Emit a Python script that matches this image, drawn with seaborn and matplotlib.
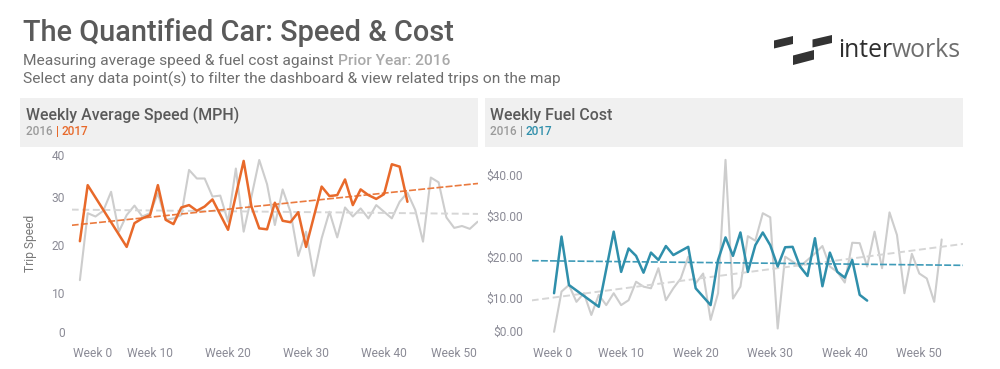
import numpy as np
import matplotlib
matplotlib.use('Agg')
import matplotlib.pyplot as plt
from matplotlib.patches import Rectangle, Polygon
import seaborn as sns

# ---------------- data ----------------
speed_weeks_2016 = list(range(1, 53))
speed_2016 = [12.6, 26.7, 26.0, 27.2, 31.2, 22.8, 26.3, 28.3, 26.0, 26.7,
              30.9, 25.3, 25.6, 26.3, 35.8, 34.0, 34.0, 30.2, 30.4, 24.9,
              36.1, 22.8, 30.2, 37.9, 32.8, 24.2, 31.7, 27.0, 17.7, 22.8,
              13.5, 21.4, 27.0, 21.6, 27.9, 26.0, 27.7, 25.6, 28.4, 27.0,
              25.6, 29.1, 31.0, 27.4, 20.7, 34.2, 33.2, 25.8, 23.6, 24.0,
              23.4, 24.9]
speed_weeks_2017 = [1, 2, 7, 8, 9, 10, 11, 12, 13, 14, 15, 16, 17, 18, 20,
                    22, 23, 24, 25, 26, 27, 28, 29, 30, 32, 33, 34, 35, 36,
                    37, 38, 39, 40, 41, 42, 43]
speed_2017 = [20.8, 32.6, 19.6, 24.6, 25.6, 26.3, 32.6, 25.3, 24.4, 27.9,
              28.4, 27.2, 28.1, 29.6, 23.2, 37.7, 28.1, 23.5, 23.3, 28.9,
              25.1, 24.8, 26.9, 19.6, 32.3, 30.3, 30.5, 33.8, 28.4, 31.7,
              30.5, 29.7, 30.7, 37.0, 36.5, 29.1]

cost_weeks_2016 = list(range(1, 54))
cost_2016 = [1.7, 11.5, 13.1, 9.0, 11.1, 5.8, 10.7, 8.2, 11.1, 8.2,
             9.4, 13.9, 12.7, 12.3, 17.2, 9.4, 12.3, 14.7, 20.0, 13.5,
             15.9, 4.6, 11.1, 43.6, 9.8, 12.7, 25.0, 23.9, 30.6, 29.6,
             2.5, 20.0, 18.8, 17.6, 19.2, 20.8, 22.6, 17.6, 16.3, 13.7,
             23.4, 23.3, 17.6, 26.1, 17.2, 30.8, 25.3, 11.1, 20.7, 15.9,
             14.7, 9.0, 24.2]
cost_weeks_2017 = [1, 2, 3, 7, 9, 10, 11, 12, 13, 14, 15, 16, 17, 19, 20, 22,
                   23, 24, 25, 26, 27, 28, 29, 30, 31, 32, 33, 34, 35, 36, 37,
                   38, 39, 40, 41, 42, 43]
cost_2017 = [11.1, 24.9, 13.1, 7.8, 26.1, 16.3, 22.0, 20.2, 16.1, 21.0,
             19.2, 22.6, 20.4, 22.4, 12.3, 8.2, 19.2, 24.7, 20.2, 25.9,
             16.3, 22.8, 25.9, 22.8, 17.6, 22.3, 22.4, 17.6, 15.3, 24.5,
             12.8, 21.0, 16.3, 14.9, 19.2, 10.7, 9.3]

week_ticks = [0, 10, 20, 30, 40, 50]
week_labels = ['Week 0', 'Week 10', 'Week 20', 'Week 30', 'Week 40', 'Week 50']
speed_ticks = [0, 10, 20, 30, 40]
speed_tick_labels = ['0', '10', '20', '30', '40']
cost_ticks = [0, 10, 20, 30, 40]
cost_tick_labels = ['$0.00', '$10.00', '$20.00', '$30.00', '$40.00']

# ---------------- style ----------------
W, H = 1000, 369
sns.set_style('white')
FONT = ['Roboto', 'DejaVu Sans']
plt.rcParams['font.family'] = FONT
plt.rcParams['lines.scale_dashes'] = False

ORANGE = '#e8692a'
BLUE = '#2f8fab'
GRAY_LINE = '#cdcdcd'
GRAY_TREND = '#d6d6d6'
TXT_DARK = '#5a5a5a'
TXT_MID = '#6e6e6e'
TICK_COL = '#8b8b96'

fig = plt.figure(figsize=(W / 100, H / 100), dpi=100)
fig.patch.set_facecolor('white')
R = fig.canvas.get_renderer()


def fxy(x, y):
    return x / W, 1 - y / H


def advance(s, size, **kw):
    t = fig.text(0, 0, s + '.', fontsize=size, **kw)
    w1 = t.get_window_extent(R).width
    t.set_text('.')
    w2 = t.get_window_extent(R).width
    t.remove()
    return w1 - w2


def runs_width(parts, size, family=None):
    kw = {} if family is None else {'family': family}
    return sum(advance(s, size, fontweight=wt, **kw) for s, c, wt in parts)


def fit(parts, target, family=None):
    return 20 * target / runs_width(parts, 20, family)


def draw_runs(x, y, parts, size, family=None):
    kw = {} if family is None else {'family': family}
    cx = x
    for s, c, wt in parts:
        fig.text(*fxy(cx, y), s, fontsize=size, color=c, fontweight=wt,
                 ha='left', va='baseline', **kw)
        cx += advance(s, size, fontweight=wt, **kw)


# ---------------- header texts ----------------
title = [('The Quantified Car: Speed & Cost', TXT_DARK, 'medium')]
draw_runs(23, 41, title, fit(title, 431))

sub1 = [('Measuring average speed & fuel cost against ', TXT_MID, 'normal'),
        ('Prior Year: 2016', '#a9a9a9', 'medium')]
sub2 = [('Select any data point(s) to filter the dashboard & view related trips on the map',
         TXT_MID, 'normal')]
s_sub = fit(sub2, 533)
draw_runs(23, 65, sub1, s_sub)
draw_runs(23, 84, sub2, s_sub)

# logo
logo_blocks = [[(774, 48.5), (793, 44), (793, 36), (774, 40.5)],
               [(793, 65), (814, 59.5), (814, 50), (793, 55.5)],
               [(812.5, 47.5), (832, 43), (832, 35), (812.5, 39.5)]]
for blk in logo_blocks:
    fig.patches.append(Polygon([fxy(*p) for p in blk], closed=True,
                               transform=fig.transFigure,
                               facecolor='#333333', edgecolor='none'))
logo = [('inter', '#2e2e2e', 'normal'), ('works', '#6e6e6e', 'normal')]
LOGO_FONT = ['Open Sans', 'Lato', 'DejaVu Sans']
draw_runs(838, 57, logo, fit(logo, 123, LOGO_FONT), LOGO_FONT)

# panel header boxes
for x0, x1 in [(20, 478), (485, 963)]:
    fig.patches.append(Rectangle(fxy(x0, 147), (x1 - x0) / W, 49 / H,
                                 transform=fig.transFigure,
                                 facecolor='#f0f0f0', edgecolor='none', zorder=0))

h1 = [('Weekly Average Speed (MPH)', TXT_DARK, 'medium')]
h_size = fit(h1, 212)
draw_runs(26, 120, h1, h_size)
draw_runs(490, 120, [('Weekly Fuel Cost', TXT_DARK, 'medium')], h_size)
leg1 = [('2016 ', '#9a9a9a', 'medium'), ('| ', ORANGE, 'medium'), ('2017', ORANGE, 'medium')]
leg2 = [('2016 ', '#9a9a9a', 'medium'), ('| ', '#9a9a9a', 'medium'), ('2017', BLUE, 'medium')]
l_size = fit(leg1, 62)
draw_runs(26, 135, leg1, l_size)
draw_runs(490, 135, leg2, l_size)

# ---------------- axes ----------------
ax1 = fig.add_axes([71.7 / W, 1 - 340 / H, 406.3 / W, 190 / H])
ax2 = fig.add_axes([531.7 / W, 1 - 340 / H, 431.6 / W, 190 / H])
xlim1, ylim1 = (-0.05, 52.05), (0, 40)
xlim2, ylim2 = (-2.0, 55.9), (-0.3, 46.0)

tick_size = fit([('Week 10', TICK_COL, 'normal')], 46)


def panel(ax, xlim, ylim, w16, v16, w17, v17, col, tcol, yt, ytl, ypad):
    ax.set_facecolor('none')
    ax.set_xlim(*xlim)
    ax.set_ylim(*ylim)
    sns.lineplot(x=w16, y=v16, ax=ax, color=GRAY_LINE, linewidth=1.5, zorder=2)
    ax.set_xlim(*xlim)
    sns.regplot(x=w16, y=v16, ax=ax, scatter=False, ci=None, truncate=False,
                line_kws=dict(color=GRAY_TREND, linewidth=1.4,
                              linestyle=(0, (5.0, 2.6)), zorder=3))
    ax.set_xlim(*xlim)
    sns.regplot(x=w17, y=v17, ax=ax, scatter=False, ci=None, truncate=False,
                line_kws=dict(color=tcol, linewidth=1.2,
                              linestyle=(0, (5.0, 1.6)), zorder=4))
    sns.lineplot(x=w17, y=v17, ax=ax, color=col, linewidth=1.8, zorder=5)
    ax.set_xlim(*xlim)
    ax.set_ylim(*ylim)
    for s in ax.spines.values():
        s.set_visible(False)
    ax.grid(False)
    ax.set_xticks([])
    ax.set_xlabel('')
    ax.set_ylabel('')
    ax.set_yticks(yt)
    ax.set_yticklabels(ytl, fontsize=tick_size, color=TICK_COL)
    ax.tick_params(axis='y', length=0, pad=ypad)
    labs = ax.get_yticklabels()
    if abs(yt[0] - ylim[0]) < 0.5:
        labs[0].set_va('bottom')
    if abs(yt[-1] - ylim[1]) < 0.5:
        labs[-1].set_va('top')
    # week labels, kept inside the panel like the original
    bb = ax.get_window_extent(R)
    for t, lab in zip(week_ticks, week_labels):
        xd = ax.transData.transform((t, 0))[0]
        w = advance(lab, tick_size)
        left = xd - w / 2
        left = max(left, bb.x0 + 1)
        if left + w > bb.x1 - 1:
            left = bb.x1 - 1 - w
        fig.text(left / W, 1 - 357 / H, lab, fontsize=tick_size, color=TICK_COL,
                 ha='left', va='baseline')


panel(ax1, xlim1, ylim1, speed_weeks_2016, speed_2016, speed_weeks_2017,
      speed_2017, ORANGE, '#ea7a3f', speed_ticks, speed_tick_labels, 4.8)
panel(ax2, xlim2, ylim2, cost_weeks_2016, cost_2016, cost_weeks_2017,
      cost_2017, BLUE, '#3f9bb8', cost_ticks, cost_tick_labels, 6.2)

ax1.set_ylabel('Trip Speed', fontsize=tick_size, color='#777777')
ax1.yaxis.set_label_coords((37 - 71.7) / 406.3, (340 - 243) / 190)

fig.savefig('out.png', dpi=100, facecolor='white')
